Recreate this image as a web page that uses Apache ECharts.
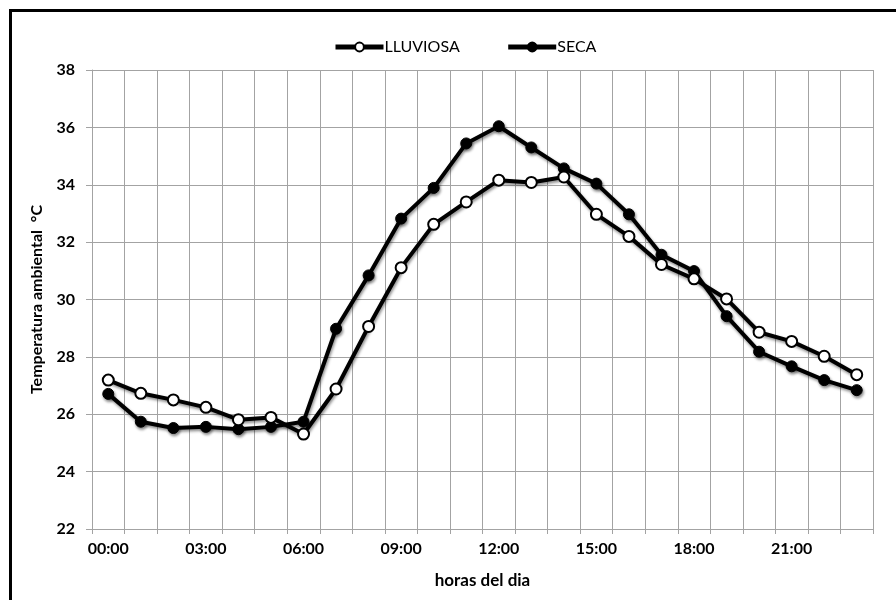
<!DOCTYPE html>
<html>
<head>
<meta charset="utf-8">
<script src="https://cdn.jsdelivr.net/npm/echarts@6/dist/echarts.min.js"></script>
<style>
  html, body { margin: 0; padding: 0; background: #fff; }
  #frame { position: absolute; left: 9px; top: 9px; width: 900px; height: 600px; border: 3px solid #000; box-sizing: border-box; }
  #chart { position: absolute; left: 0; top: 0; width: 896px; height: 600px; }
</style>
</head>
<body>
<div id="frame"></div>
<div id="chart"></div>
<script>
// Hourly ambient temperature, rainy vs dry season
const hours = ['00:00','01:00','02:00','03:00','04:00','05:00','06:00','07:00','08:00','09:00','10:00','11:00',
               '12:00','13:00','14:00','15:00','16:00','17:00','18:00','19:00','20:00','21:00','22:00','23:00'];
const lluviosa = [27.19, 26.73, 26.50, 26.24, 25.81, 25.89, 25.31, 26.88, 29.06, 31.11, 32.62, 33.40,
                  34.16, 34.08, 34.27, 32.97, 32.20, 31.22, 30.72, 30.02, 28.86, 28.54, 28.02, 27.38];
const seca = [26.71, 25.74, 25.52, 25.56, 25.48, 25.56, 25.74, 28.98, 30.84, 32.82, 33.89, 35.44,
              36.04, 35.30, 34.57, 34.04, 32.97, 31.56, 30.99, 29.42, 28.18, 27.67, 27.19, 26.84];
const yTicks = { min: 22, max: 38, step: 2 };

const FONT = "Lato, 'Open Sans', sans-serif";
const shadow = { shadowColor: 'rgba(0,0,0,0.45)', shadowBlur: 3, shadowOffsetX: 1, shadowOffsetY: 2 };
const GRID_GRAY = '#a3a3a3';

const chart = echarts.init(document.getElementById('chart'), null, { renderer: 'canvas' });
chart.setOption({
  backgroundColor: 'transparent',
  animation: false,
  legend: {
    top: 34,
    left: 328,
    itemGap: 46,
    itemWidth: 48,
    itemHeight: 11,
    lineStyle: { width: 5 },
    textStyle: { fontFamily: FONT, fontSize: 16, color: '#000', padding: [0, 0, 0, -4] },
    data: ['LLUVIOSA', 'SECA']
  },
  grid: { left: 92, right: 23, top: 70, bottom: 71, containLabel: false },
  xAxis: {
    type: 'category',
    data: hours,
    boundaryGap: true,
    name: 'horas del dia',
    nameLocation: 'middle',
    nameGap: 43,
    nameTextStyle: { fontFamily: FONT, fontWeight: 'bold', fontSize: 17, color: '#000' },
    axisLine: { lineStyle: { color: GRID_GRAY, width: 1 } },
    axisTick: { show: true, interval: 0, length: 5, lineStyle: { color: GRID_GRAY } },
    axisLabel: { interval: 2, margin: 12, fontFamily: FONT, fontWeight: 'bold', fontSize: 16, color: '#000' },
    splitLine: { show: true, interval: 0, lineStyle: { color: GRID_GRAY, width: 1 } }
  },
  yAxis: {
    type: 'value',
    min: yTicks.min,
    max: yTicks.max,
    interval: yTicks.step,
    name: 'Temperatura ambiental  °C',
    nameLocation: 'middle',
    nameGap: 47,
    nameTextStyle: { fontFamily: FONT, fontWeight: 'bold', fontSize: 16, color: '#000' },
    axisLine: { show: true, lineStyle: { color: GRID_GRAY, width: 1 } },
    axisTick: { show: true, length: 6, lineStyle: { color: GRID_GRAY } },
    axisLabel: { margin: 17, fontFamily: FONT, fontWeight: 'bold', fontSize: 16, color: '#000' },
    splitLine: { show: true, lineStyle: { color: GRID_GRAY, width: 1 } }
  },
  series: [
    {
      name: 'LLUVIOSA',
      type: 'line',
      data: lluviosa,
      symbol: 'circle',
      symbolSize: 11,
      z: 3,
      lineStyle: Object.assign({ color: '#000', width: 4 }, shadow),
      itemStyle: { color: '#fff', borderColor: '#000', borderWidth: 2 }
    },
    {
      name: 'SECA',
      type: 'line',
      data: seca,
      symbol: 'circle',
      symbolSize: 11,
      z: 2,
      lineStyle: Object.assign({ color: '#000', width: 4 }, shadow),
      itemStyle: Object.assign({ color: '#000', borderColor: '#000', borderWidth: 1 }, shadow)
    }
  ]
});
</script>
</body>
</html>
